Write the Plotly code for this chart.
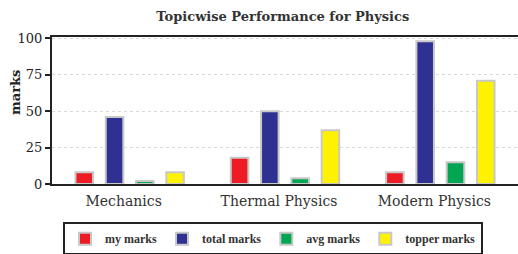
import plotly.graph_objects as go

categories = ["Mechanics", "Thermal Physics", "Modern Physics"]
my_marks = [8, 18, 8]
total_marks = [46, 50, 98]
avg_marks = [2, 4, 15]
topper_marks = [8, 37, 71]
series_names = ["my marks", "total marks", "avg marks", "topper marks"]
colors = ["#ed1c24", "#2e3192", "#00a651", "#fff200"]
y_ticks = [0, 25, 50, 75, 100]

fig = go.Figure()
for name, vals, col in zip(series_names, [my_marks, total_marks, avg_marks, topper_marks], colors):
    fig.add_trace(go.Bar(x=categories, y=vals, name=name,
                         marker=dict(color=col, line=dict(color="#c8c8c8", width=2))))

font_family = "DejaVu Serif"
fig.update_layout(
    width=518, height=254,
    margin=dict(l=52, r=0, t=37, b=70, autoexpand=False),
    paper_bgcolor="white", plot_bgcolor="white",
    barmode="group", bargap=0.22, bargroupgap=0.42,
    title=dict(text="<b>Topicwise Performance for Physics</b>", x=0.546, xanchor="center",
               yref="container", y=0.935, yanchor="middle",
               font=dict(family=font_family, size=13, color="#333")),
    font=dict(family=font_family, color="#333"),
    showlegend=True,
    legend=dict(orientation="h", xref="container", x=63 / 518, xanchor="left",
                yref="container", y=0.125, yanchor="top",
                bordercolor="#222", borderwidth=2,
                font=dict(family="Liberation Serif", size=12, weight="bold", color="#333"),
                itemwidth=30, tracegroupgap=0),
    xaxis=dict(showline=True, linecolor="#222", linewidth=2, mirror=True, automargin=False,
               tickfont=dict(size=14, color="#333"), ticks="",
               ticklabelstandoff=3, ticklabelshift=-6),
    yaxis=dict(range=[0, 101], tickvals=y_ticks, showline=True, linecolor="#222", linewidth=2,
               ticks="outside", ticklen=5, tickwidth=2, tickcolor="#222", automargin=False,
               showgrid=True, gridcolor="#d9d9d9", griddash="dot", gridwidth=1,
               zeroline=False,
               tickfont=dict(size=13, color="#222")),
    annotations=[dict(text="<b>marks</b>", textangle=-90, xref="paper", yref="paper",
                      x=-37 / 466, y=(184 - 93) / 147, xanchor="center", yanchor="middle",
                      showarrow=False, font=dict(size=13, color="#222"))],
)

fig.write_html("out.html", config={"displayModeBar": False},
               post_script="document.body.style.margin='0';document.body.style.padding='0';")
